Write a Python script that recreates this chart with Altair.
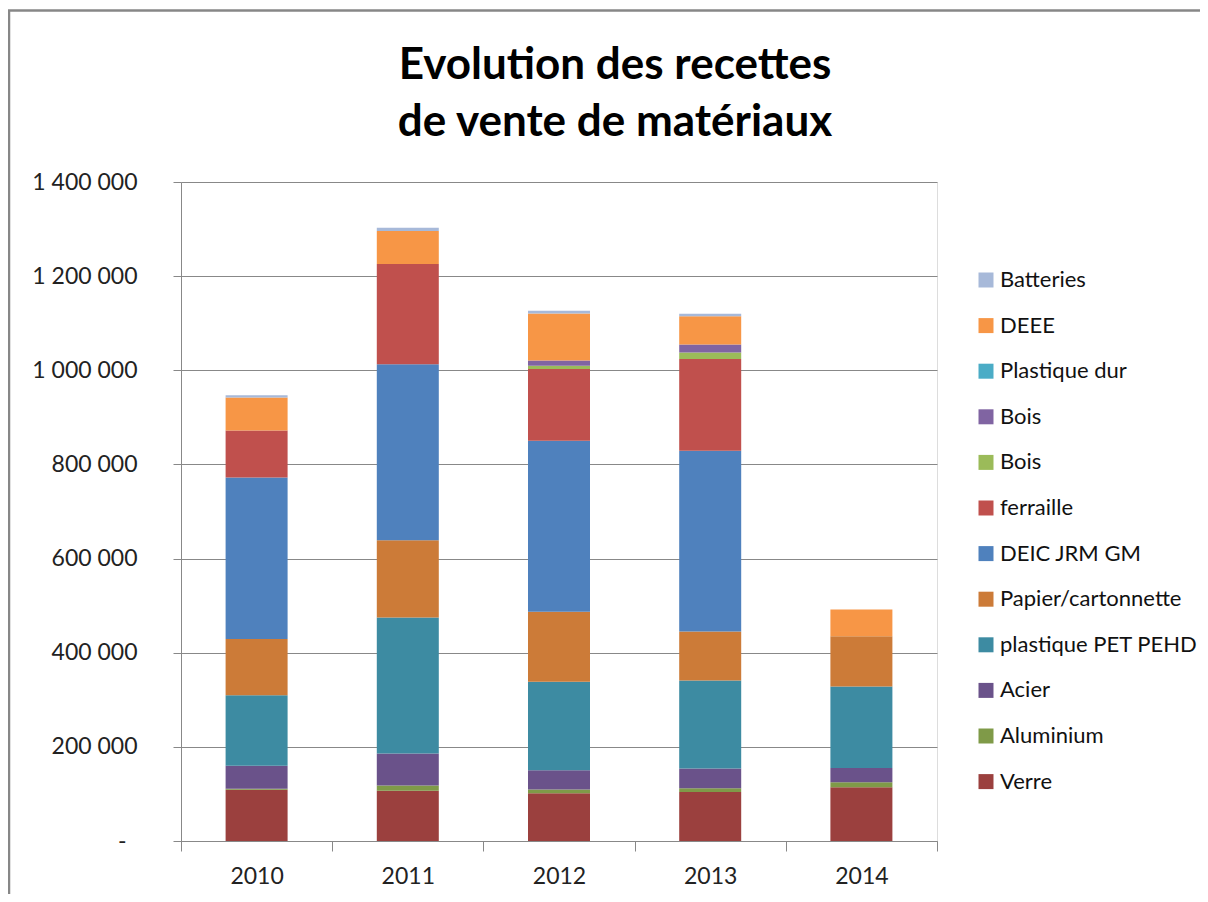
import altair as alt
import pandas as pd

years = ["2010", "2011", "2012", "2013", "2014"]

# series from bottom of stack to top
materials = ["Verre", "Aluminium", "Acier", "plastique PET PEHD", "Papier/cartonnette",
             "DEIC JRM GM", "ferraille", "Bois|vert", "Bois|violet", "Plastique dur",
             "DEEE", "Batteries"]
colors = ["#9B403E", "#7F9A48", "#6A528A", "#3D8BA2", "#CC7B38",
          "#4F81BD", "#C0504D", "#9BBB59", "#8064A2", "#4BACC6",
          "#F79646", "#A7B9D9"]

verre = [109000, 107000, 101500, 104000, 114000]
aluminium = [2000, 11000, 8000, 8000, 11000]
acier = [49000, 68000, 41000, 42000, 30000]
pet = [149500, 289000, 188000, 187000, 173000]
papier = [119500, 164000, 148500, 104000, 107000]
deic = [343000, 374000, 363500, 384000, 0]
ferraille = [100000, 213000, 152000, 195000, 0]
bois_vert = [0, 0, 7000, 14000, 0]
bois_violet = [0, 0, 11500, 17000, 0]
plastique_dur = [0, 0, 0, 0, 0]
deee = [70000, 70000, 99500, 60000, 57000]
batteries = [5000, 7000, 6000, 5000, 0]

series = [verre, aluminium, acier, pet, papier, deic, ferraille,
          bois_vert, bois_violet, plastique_dur, deee, batteries]

rows = []
for i, (m, vals) in enumerate(zip(materials, series)):
    for y, v in zip(years, vals):
        rows.append({"annee": y, "materiau": m, "valeur": v, "ordre": i})
df = pd.DataFrame(rows)

FONT = "Lato"

ylabel = ("datum.value == 0 ? '-' : "
          "replace(format(datum.value, ',.0f'), regexp(',', 'g'), ' ')")

bars = alt.Chart(df).mark_bar(size=62).encode(
    x=alt.X("annee:N", sort=years, title=None,
            scale=alt.Scale(paddingInner=0, paddingOuter=0),
            axis=alt.Axis(labelAngle=0, tickBand="extent", tickSize=10,
                          labelPadding=14, grid=False, labelFontSize=23,
                          labelFont=FONT, labelColor="#222222",
                          domainColor="#888888", tickColor="#888888")),
    y=alt.Y("valeur:Q", title=None, stack="zero",
            scale=alt.Scale(domain=[0, 1400000], nice=False),
            axis=alt.Axis(values=[0, 200000, 400000, 600000, 800000,
                                  1000000, 1200000, 1400000],
                          labelExpr=ylabel, tickSize=8,
                          labelPadding={"condition": {"test": "datum.value == 0",
                                                      "value": 47},
                                        "value": 36},
                          labelFontSize=23, labelFont=FONT,
                          labelColor="#222222", gridColor="#888888",
                          domainColor="#888888", tickColor="#888888")),
    color=alt.Color("materiau:N",
                    scale=alt.Scale(domain=materials[::-1], range=colors[::-1]),
                    legend=alt.Legend(title=None, orient="none",
                                      legendX=794, legendY=87,
                                      symbolType="square", symbolSize=225,
                                      symbolStrokeWidth=0, symbolOpacity=1,
                                      labelFontSize=22, labelFont=FONT,
                                      labelColor="#111111", rowPadding=23.6,
                                      labelOffset=3, padding=0, labelLimit=400,
                                      labelExpr="split(datum.label, '|')[0]")),
    order=alt.Order("ordre:Q", sort="ascending"),
)

border = alt.Chart(alt.Data(values=[{"a": 1}])).mark_rule(
    color="#878787", strokeWidth=2.5).encode(
    x=alt.value(-172), y=alt.value(-171.5), y2=alt.value(720))
border_top = alt.Chart(alt.Data(values=[{"a": 1}])).mark_rule(
    color="#878787", strokeWidth=2.5).encode(
    x=alt.value(-173), x2=alt.value(1100), y=alt.value(-171.5))

chart = alt.layer(bars, border, border_top).properties(
    width=756, height=659,
    autosize=alt.AutoSizeParams(type="none"),
    padding={"left": 173, "top": 174, "right": 263, "bottom": 53},
    title=alt.Title(["Evolution des recettes", "de vente de matériaux"],
                    anchor="middle", frame="group", dx=56, offset=-180,
                    fontSize=44, font=FONT, fontWeight="bold",
                    color="#000000", lineHeight=57, baseline="bottom"),
).configure_view(stroke=None).configure(background="white")

chart.save("out.html", embed_options={"renderer": "svg", "actions": False})
